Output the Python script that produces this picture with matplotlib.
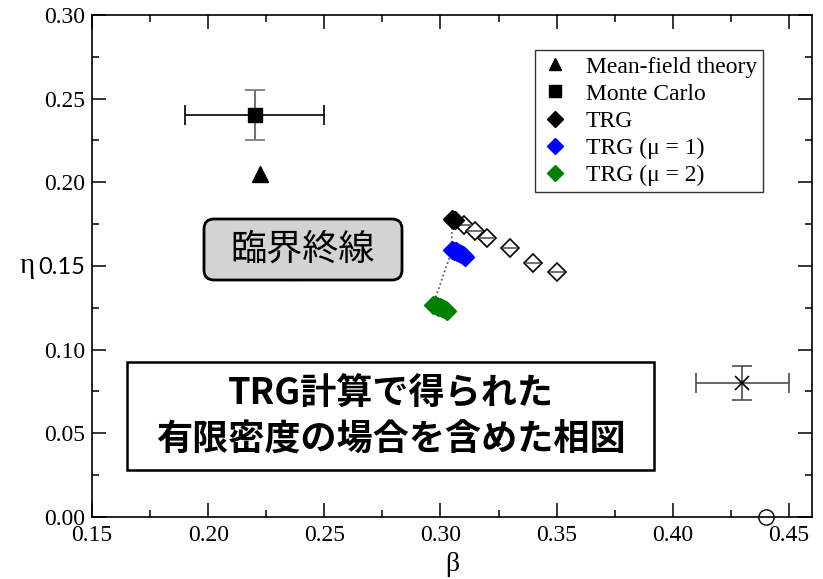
import matplotlib.pyplot as plt
from matplotlib.patches import FancyBboxPatch, Rectangle
from matplotlib.ticker import MultipleLocator

plt.rcParams['font.family'] = 'serif'
plt.rcParams['font.serif'] = ['Liberation Serif', 'DejaVu Serif']

# mean-field theory and Monte Carlo
mf_beta = [0.2225]
mf_eta = [0.205]
mc_beta = [0.22]
mc_eta = [0.24]
mc_beta_err = [0.03]
mc_eta_err = [0.015]

# TRG (mu = 0), filled and open points
trg_beta = [0.3048, 0.3056, 0.3064]
trg_eta = [0.1782, 0.1777, 0.1772]
trg_open_beta = [0.31, 0.315, 0.32, 0.33, 0.34, 0.35]
trg_open_eta = [0.1745, 0.1710, 0.1665, 0.1605, 0.1520, 0.1465]

# TRG at finite density
mu1_beta = [0.3050, 0.3058, 0.3065, 0.3073, 0.3080, 0.3088, 0.3095, 0.3101, 0.3107]
mu1_eta = [0.1596, 0.1591, 0.1587, 0.1581, 0.1576, 0.1570, 0.1563, 0.1557, 0.1551]
mu2_beta = [0.2968, 0.2975, 0.2983, 0.2991, 0.2999, 0.3007, 0.3015, 0.3023, 0.3030]
mu2_eta = [0.1267, 0.1264, 0.1261, 0.1257, 0.1253, 0.1248, 0.1243, 0.1237, 0.1231]

# other points
other_beta = [0.43]
other_eta = [0.08]
other_beta_err = [0.02]
other_eta_err = [0.01]
circle_beta = [0.44]
circle_eta = [0.0]
stray_beta = [0.2356]
stray_eta = [0.1422]

xticks = [0.15, 0.20, 0.25, 0.30, 0.35, 0.40, 0.45]
yticks = [0.00, 0.05, 0.10, 0.15, 0.20, 0.25, 0.30]
ytick_labels = ['0.00', '0.05', '0.10', '0.15', '0.20', '0.25', '0.30']

fig = plt.figure(figsize=(8.23, 5.79), dpi=100)
ax = fig.add_axes([0.1118, 0.1071, 0.875, 0.867])

# dotted guide through first point of each TRG series
ax.plot([trg_beta[0], mu1_beta[0], mu2_beta[0]], [trg_eta[0], mu1_eta[0], mu2_eta[0]],
        ls=':', color='0.3', lw=1.2, zorder=1)

ax.plot(mf_beta, mf_eta, '^', color='black', ms=11, label='Mean-field theory', zorder=3)
ax.errorbar(mc_beta, mc_eta, xerr=mc_beta_err, fmt='none', ecolor='black', elinewidth=1.2,
            capsize=7, capthick=1.2)
ax.errorbar(mc_beta, mc_eta, yerr=mc_eta_err, fmt='none', ecolor='0.45', elinewidth=1.5,
            capsize=7, capthick=1.2)
ax.plot(mc_beta, mc_eta, 's', color='black', ms=10, label='Monte Carlo', zorder=3)

ax.plot(trg_open_beta, trg_open_eta, 'D', mfc='white', mec='black', mew=1.2, ms=9, ls='none', zorder=2)
ax.plot(trg_open_beta, trg_open_eta, '_', color='0.35', mew=1.2, ms=12, ls='none', zorder=2)
ax.plot(trg_beta, trg_eta, 'D', color='black', ms=9, ls='none', label='TRG', zorder=3)
ax.plot(mu1_beta, mu1_eta, 'D', color='blue', ms=9, ls='none', label='TRG (μ = 1)', zorder=3)
ax.plot(mu2_beta, mu2_eta, 'D', color='green', ms=9, ls='none', label='TRG (μ = 2)', zorder=3)

ax.errorbar(other_beta, other_eta, xerr=other_beta_err, yerr=other_eta_err, fmt='x', color='black',
            ms=10, mew=1.2, ecolor='0.3', elinewidth=1.2, capsize=7, capthick=1.2)
ax.plot(circle_beta, circle_eta, 'o', mfc='none', mec='black', ms=11, mew=1.0, clip_on=False, zorder=4)
ax.plot(stray_beta, stray_eta, '_', color='black', ms=9, mew=3)

ax.set_xlim(0.15, 0.46)
ax.set_ylim(0.0, 0.30)
ax.set_xticks(xticks)
ax.set_xticklabels([f'{v:.2f}' for v in xticks])
ax.set_yticks(yticks)
ax.set_yticklabels(ytick_labels)
ax.xaxis.set_minor_locator(MultipleLocator(0.025))
ax.yaxis.set_minor_locator(MultipleLocator(0.025))
ax.tick_params(which='both', direction='in', top=True, right=True, labelsize=17, width=1.1)
ax.tick_params(which='major', length=10)
ax.tick_params(which='minor', length=5)
ax.tick_params(axis='x', pad=6)
ax.tick_params(axis='y', pad=5)
ax.get_yticklabels()[3].set_family('Lato')
for s in ax.spines.values():
    s.set_linewidth(1.2)

ax.set_xlabel('β', fontsize=20, labelpad=4)
ax.set_ylabel('η', fontsize=21, rotation=0, labelpad=8, va='center')

leg = ax.legend(loc='upper right', bbox_to_anchor=(0.932, 0.930), borderaxespad=0,
                fontsize=17, frameon=True, fancybox=False, edgecolor='black',
                labelspacing=0.24, handlelength=1.2, handletextpad=0.7, borderpad=0.25,
                markerscale=0.85)
leg.get_frame().set_linewidth(1.0)

# annotation boxes (figure inches)
box1 = FancyBboxPatch((2.04, 2.99), 1.98, 0.61, boxstyle='round,pad=0,rounding_size=0.1',
                      transform=fig.dpi_scale_trans, facecolor='#d3d3d3', edgecolor='black',
                      lw=2.0, zorder=5)
fig.patches.append(box1)
fig.text(3.03, 3.295, '臨界終線', transform=fig.dpi_scale_trans, ha='center', va='center',
         fontsize=26, family=['Noto Sans CJK JP', 'DejaVu Sans'], zorder=6)

box2 = Rectangle((1.27, 1.09), 5.27, 1.08, transform=fig.dpi_scale_trans,
                 facecolor='white', edgecolor='black', lw=1.8, zorder=5)
fig.patches.append(box2)
fig.text(3.905, 1.62, 'TRG計算で得られた\n有限密度の場合を含めた相図', transform=fig.dpi_scale_trans,
         ha='center', va='center', fontsize=26, fontweight='bold', linespacing=1.3,
         family=['Noto Sans CJK JP', 'DejaVu Sans'], zorder=6)

plt.savefig('out.png', dpi=100)
